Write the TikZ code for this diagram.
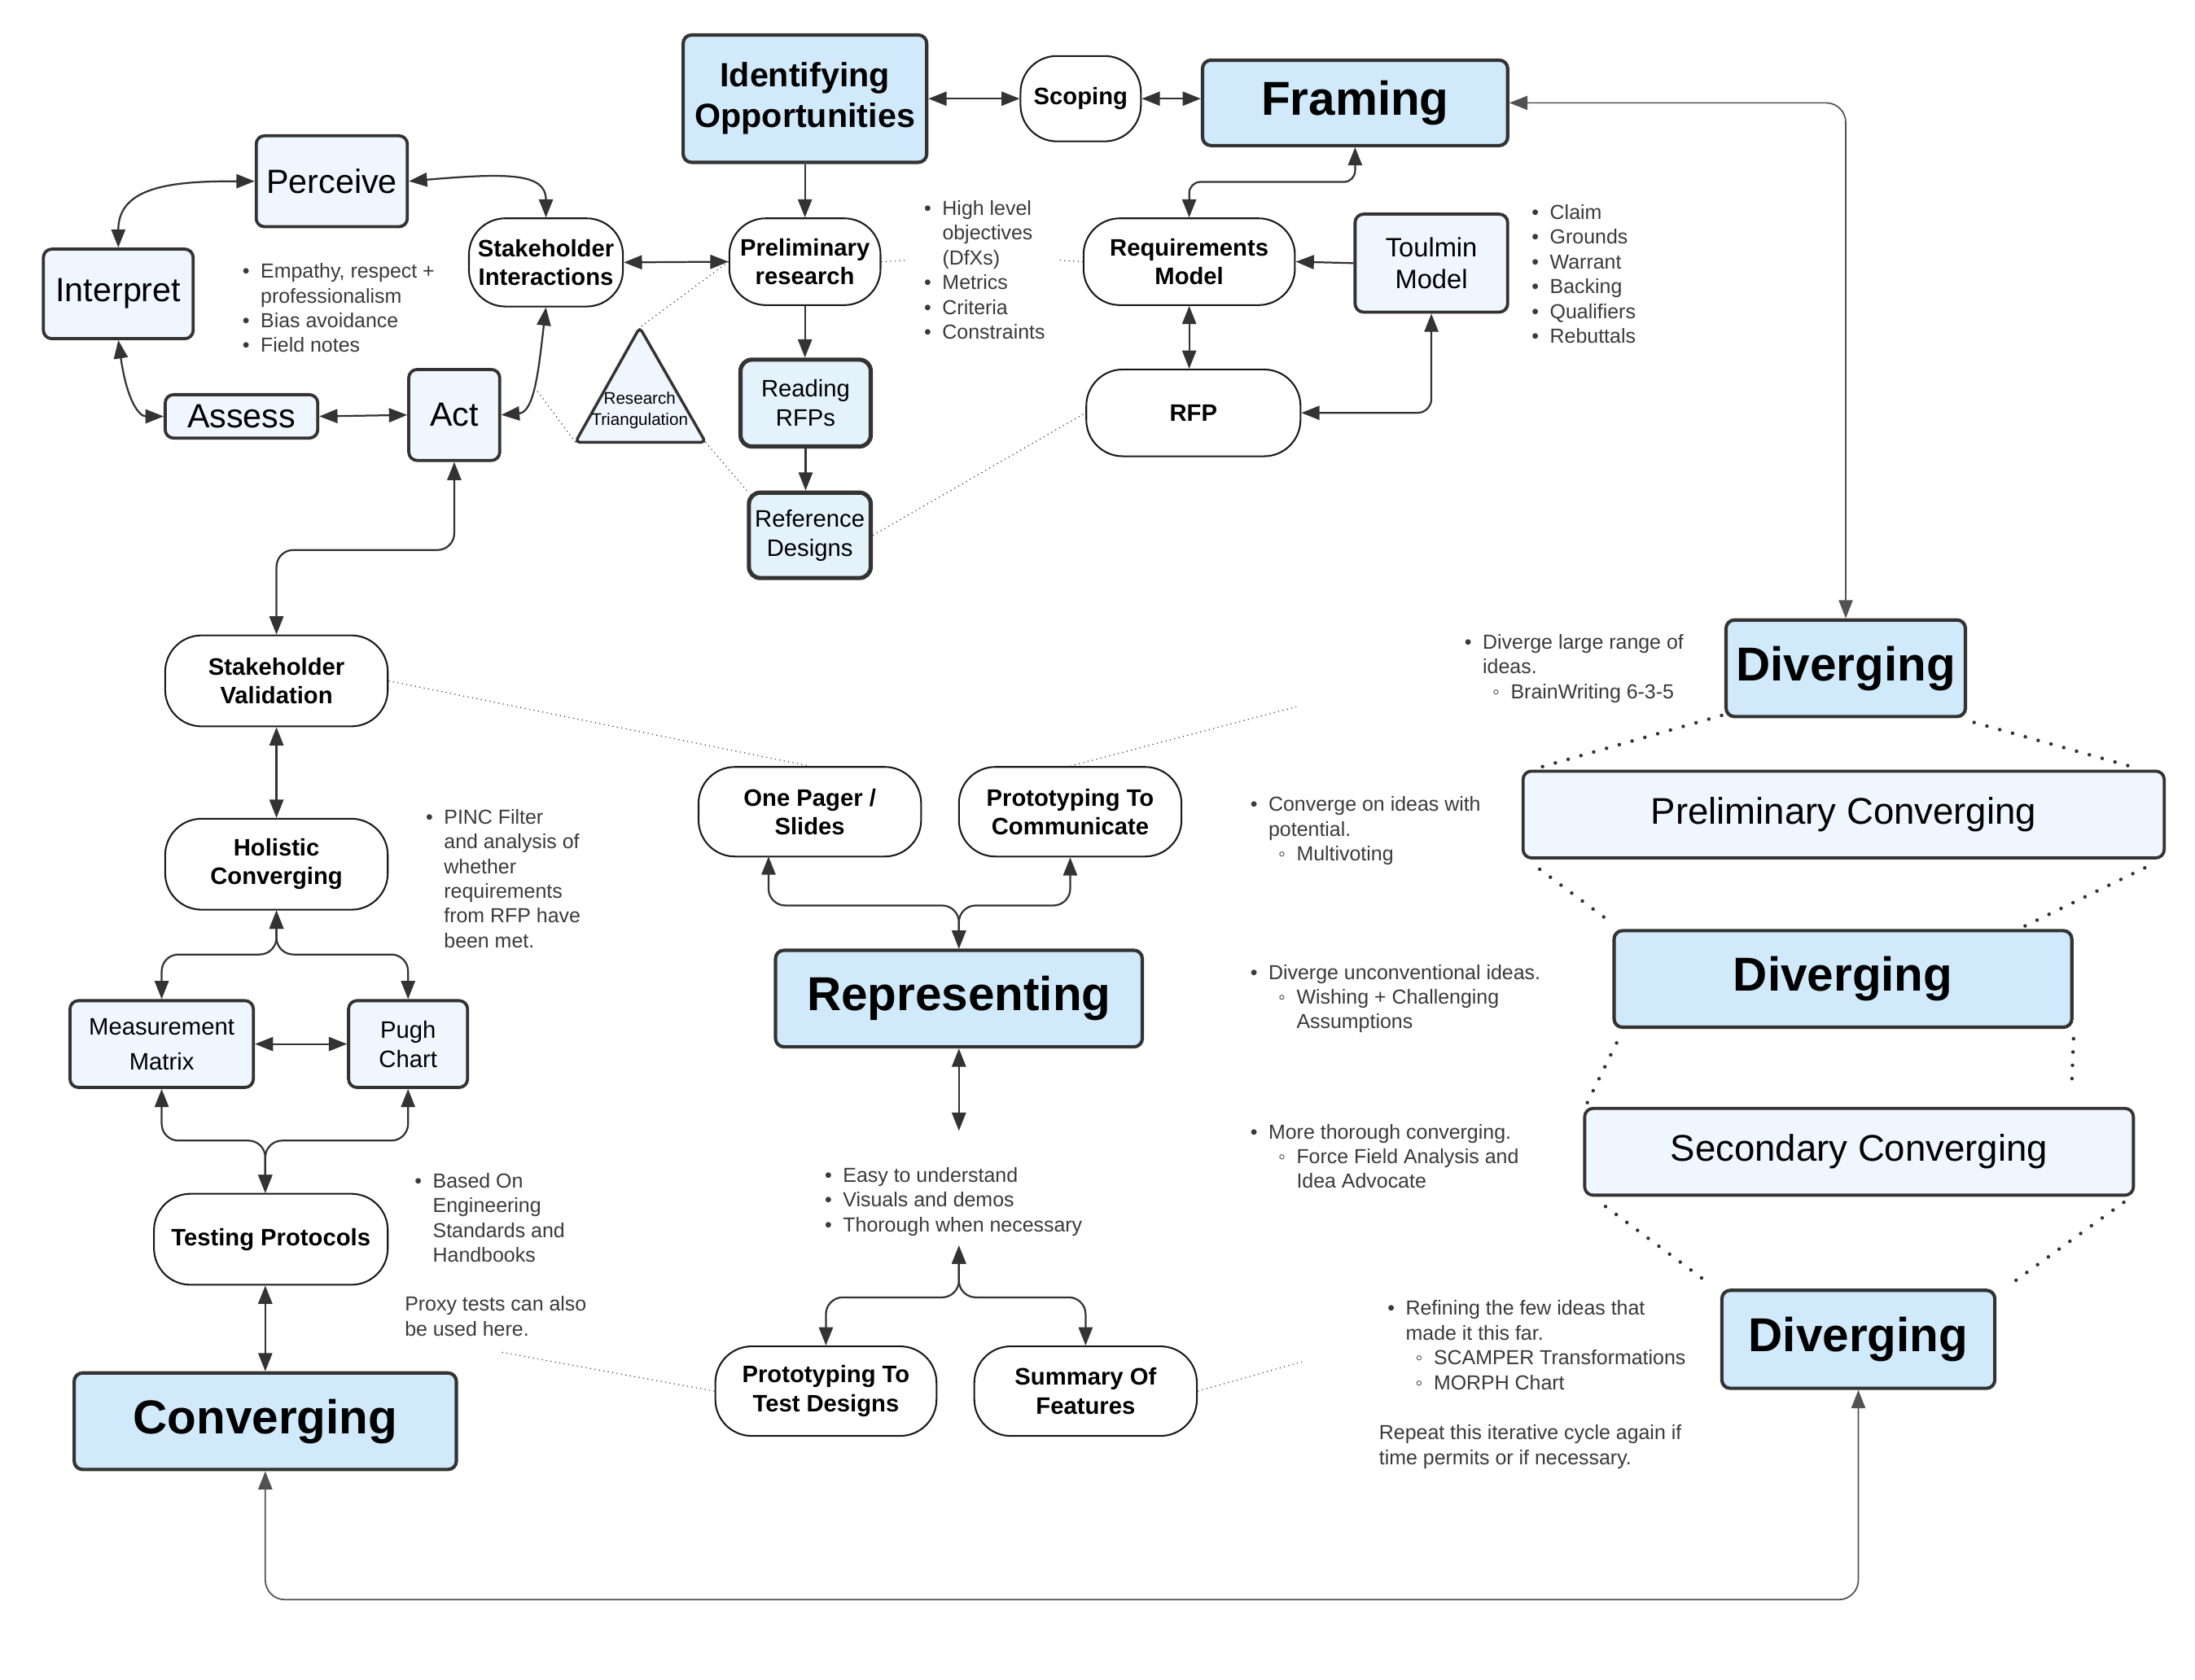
\documentclass[tikz,border=0pt]{standalone}
\usepackage{fontspec}
\setmainfont{Liberation Sans}
\usetikzlibrary{arrows.meta,calc}
\definecolor{blueF}{HTML}{D1EAFB}
\definecolor{lightF}{HTML}{EFF6FE}
\definecolor{midF}{HTML}{E4F2FC}
\definecolor{bd}{HTML}{333333}
\definecolor{ln}{HTML}{333333}
\definecolor{txt}{HTML}{3A3A3A}
\newcommand\fs[2]{\fontsize{#1}{#2}\selectfont}
\newcommand\bi{\makebox[13pt][l]{•}}
\newcommand\bn{\hspace*{13pt}}
\newcommand\si{\hspace*{20pt}\makebox[13pt][l]{◦}}
\newcommand\sn{\hspace*{33pt}}
\tikzset{
  bluebox/.style={draw=bd, line width=2.4pt, fill=blueF, rounded corners=6pt, align=center, inner sep=0pt, font=\bfseries\fs{34}{40}},
  lightbox/.style={draw=bd, line width=2.2pt, fill=lightF, rounded corners=6pt, align=center, inner sep=0pt, font=\fs{24}{29}},
  midbox/.style={draw=bd, line width=3pt, fill=midF, rounded corners=8pt, align=center, inner sep=0pt, font=\fs{17}{21}},
  pill/.style={draw=black!90, line width=1.2pt, fill=white, rounded corners=26pt, align=center, inner sep=0pt, font=\bfseries\fs{17}{20.5}},
  note/.style={anchor=north west, inner sep=0pt, align=left, text=txt, font=\fs{14.5}{17.7}},
  conn/.style={draw=ln, line width=1.3pt},
  thinconn/.style={draw=ln!85, line width=1pt},
  dotfine/.style={draw=black!75, line width=0.7pt, dash pattern=on 0.7pt off 2.5pt},
  dotbig/.style={draw=bd, line width=2.6pt, line cap=round, dash pattern=on 0pt off 9.5pt},
}
\begin{document}
\begin{tikzpicture}[x=1pt,y=-1pt, >={Triangle[length=13pt,width=10pt]}]
\useasboundingbox (0,0) rectangle (1568,1200);
\fill[white] (0,0) rectangle (1568,1200);

% ---------- top row ----------
\node[bluebox, minimum width=174pt, minimum height=91pt, font=\bfseries\fs{24}{29}] (idop) at (575,70.5) {Identifying\\Opportunities};
\node[pill, minimum width=86pt, minimum height=61pt] (scope) at (772,70.5) {Scoping};
\node[bluebox, minimum width=218pt, minimum height=61pt] (fram) at (968,73.5) {Framing};

% ---------- top-left cycle ----------
\node[lightbox, minimum width=108pt, minimum height=65pt] (perc) at (237,129.5) {Perceive};
\node[lightbox, minimum width=107pt, minimum height=64pt] (interp) at (84.5,210) {Interpret};
\node[lightbox, minimum width=109pt, minimum height=31pt] (assess) at (172.5,297.5) {Assess};
\node[lightbox, minimum width=65pt, minimum height=65pt] (act) at (324.5,296.5) {Act};
\node[pill, minimum width=110pt, minimum height=63pt] (shint) at (390,187.5) {Stakeholder\\Interactions};
\node[pill, minimum width=108pt, minimum height=62pt] (prel) at (575,187) {Preliminary\\research};
\node[midbox, minimum width=93pt, minimum height=62pt] (read) at (575.5,288) {Reading\\RFPs};
\node[midbox, minimum width=87pt, minimum height=61pt] (refd) at (578.5,382.5) {Reference\\Designs};

% triangle
\coordinate (tA) at (457,234);
\coordinate (tL) at (411,316);
\coordinate (tR) at (504,316);
\draw[draw=bd, line width=2pt, fill=lightF, rounded corners=3pt] (tA) -- (tR) -- (tL) -- cycle;
\node[inner sep=0pt, align=center, font=\fs{12}{15}] (tri) at (457,293) {Research\\Triangulation};

\node[note] (emp) at (173,188) {\bi Empathy, respect +\\\bn professionalism\\\bi Bias avoidance\\\bi Field notes};

% ---------- framing cluster ----------
\node[pill, minimum width=151pt, minimum height=62pt] (req) at (849.5,187) {Requirements\\Model};
\node[lightbox, minimum width=109pt, minimum height=70pt, font=\fs{19}{23}] (toul) at (1022.5,188) {Toulmin\\Model};
\node[pill, minimum width=153pt, minimum height=62pt] (rfp) at (852.5,295) {RFP};
\node[note] (hlo) at (660,143) {\bi High level\\\bn objectives\\\bn (DfXs)\\\bi Metrics\\\bi Criteria\\\bi Constraints};
\node[note] (claim) at (1094,146) {\bi Claim\\\bi Grounds\\\bi Warrant\\\bi Backing\\\bi Qualifiers\\\bi Rebuttals};

% ---------- right column ----------
\node[bluebox, minimum width=171pt, minimum height=69pt] (div1) at (1318.5,477.5) {Diverging};
\node[lightbox, minimum width=458pt, minimum height=62pt, font=\fs{26.5}{32}] (pconv) at (1317,582) {Preliminary Converging};
\node[bluebox, minimum width=327pt, minimum height=69pt] (div2) at (1316.5,699.5) {Diverging};
\node[lightbox, minimum width=392pt, minimum height=62pt, font=\fs{26.5}{32}] (sconv) at (1328,823) {Secondary Converging};
\node[bluebox, minimum width=195pt, minimum height=70pt] (div3) at (1327.5,957) {Diverging};

\node[note] (dlr) at (1046,453) {\bi Diverge large range of\\\bn ideas.\\\si BrainWriting 6-3-5};
\node[note] (cpot) at (893,569) {\bi Converge on ideas with\\\bn potential.\\\si Multivoting};
\node[note] (dun) at (893,689) {\bi Diverge unconventional ideas.\\\si Wishing + Challenging\\\sn Assumptions};
\node[note] (mtc) at (893,803) {\bi More thorough converging.\\\si Force Field Analysis and\\\sn Idea Advocate};
\node[note] (refn) at (991,929) {\bi Refining the few ideas that\\\bn made it this far.\\\si SCAMPER Transformations\\\si MORPH Chart};
\node[note] (rept) at (985,1018) {Repeat this iterative cycle again if\\time permits or if necessary.};

% ---------- middle ----------
\node[bluebox, minimum width=262pt, minimum height=69pt] (rep) at (685,713.5) {Representing};
\node[pill, minimum width=159pt, minimum height=64pt] (onep) at (578.5,580) {One Pager /\\Slides};
\node[pill, minimum width=159pt, minimum height=64pt] (pcom) at (764.5,580) {Prototyping To\\Communicate};
\node[pill, minimum width=158pt, minimum height=64pt] (ptest) at (590,994) {Prototyping To\\Test Designs};
\node[pill, minimum width=159pt, minimum height=64pt] (summ) at (775.5,994) {Summary Of\\Features};
\node[note] (easy) at (589,834) {\bi Easy to understand\\\bi Visuals and demos\\\bi Thorough when necessary};

% ---------- left column ----------
\node[pill, minimum width=159pt, minimum height=65pt] (sval) at (197.5,486.5) {Stakeholder\\Validation};
\node[pill, minimum width=159pt, minimum height=65pt] (hol) at (197.5,617.5) {Holistic\\Converging};
\node[lightbox, minimum width=131pt, minimum height=62pt, font=\fs{17}{25}] (meas) at (115.5,746) {Measurement\\Matrix};
\node[lightbox, minimum width=85pt, minimum height=62pt, font=\fs{17}{21}] (pugh) at (291.5,746) {Pugh\\Chart};
\node[pill, minimum width=167pt, minimum height=65pt] (test) at (193.5,885.5) {Testing Protocols};
\node[bluebox, minimum width=273pt, minimum height=69pt] (conv) at (189.5,1015.5) {Converging};
\node[note] (pinc) at (304,578) {\bi PINC Filter\\\bn and analysis of\\\bn whether\\\bn requirements\\\bn from RFP have\\\bn been met.};
\node[note] (based) at (296,838) {\bi Based On\\\bn Engineering\\\bn Standards and\\\bn Handbooks};
\node[note] (proxy) at (289,926) {Proxy tests can also\\be used here.};

% ---------- helper coordinates ----------
\coordinate (yA) at (0,393);
\coordinate (yB) at (0,682);
\coordinate (yC) at (0,815);
\coordinate (yD) at (0,647);
\coordinate (yE) at (0,927);
\coordinate (yF) at (0,130);
\coordinate (yG) at (0,1143);
\coordinate (onepA) at (549,612);
\coordinate (easyT) at (685,808);
\coordinate (easyB) at (685,890);
\coordinate (h1) at (648,186);
\coordinate (h2) at (757,186);
\coordinate (pcF) at (926,505);
\coordinate (prF) at (357,966);
\coordinate (smF) at (930,973);
\coordinate (actD) at (382,277);
\coordinate (d2v) at (1480,773);

% ---------- solid connectors ----------
\draw[conn,<->] (interp.north) .. controls ($(interp.north)+(0,-45)$) and ($(perc.west)+(-55,0)$) .. (perc.west);
\draw[conn,<->] (perc.east) .. controls ($(perc.east)+(70,-6)$) and ($(shint.north)+(0,-32)$) .. (shint.north);
\draw[conn,<->] (interp.south) .. controls ($(interp.south)+(6,42)$) and ($(assess.west)+(-18,0)$) .. (assess.west);
\draw[conn,<->] (act.east) .. controls ($(act.east)+(24,-2)$) and ($(shint.south)+(-5,42)$) .. (shint.south);
\draw[conn,<->] (assess.east) -- (act.west);
\draw[conn,<->] (shint.east) -- (prel.west);
\draw[conn,->] (idop.south) -- (prel.north);
\draw[conn,->] (prel.south) -- (prel.south |- read.north);
\draw[conn,->] (read.south) -- (read.south |- refd.north);
\draw[conn,<->] (idop.east |- scope.west) -- (scope.west);
\draw[conn,<->] (scope.east) -- (scope.east -| fram.west);
\draw[conn,<->, rounded corners=8pt] (fram.south) -- (fram.south |- yF) -- (req.north |- yF) -- (req.north);
\draw[conn,->] (toul.west) -- (req.east);
\draw[conn,<->] (req.south) -- (req.south |- rfp.north);
\draw[conn,<->, rounded corners=10pt] (toul.south) -- (toul.south |- rfp.east) -- (rfp.east);
\draw[thinconn,<->, rounded corners=14pt] (fram.east) -- (fram.east -| div1.north) -- (div1.north);

\draw[conn,<->, rounded corners=12pt] (act.south) -- (act.south |- yA) -- (sval.north |- yA) -- (sval.north);
\draw[conn,<->] (sval.south) -- (hol.north);
\draw[conn,<->, rounded corners=12pt] (hol.south) -- (hol.south |- yB) -- (meas.north |- yB) -- (meas.north);
\draw[conn,<->, rounded corners=12pt] (hol.south) -- (hol.south |- yB) -- (pugh.north |- yB) -- (pugh.north);
\draw[conn,<->] (meas.east) -- (pugh.west);
\draw[conn,<->, rounded corners=12pt] (meas.south) -- (meas.south |- yC) -- (conv.north |- yC) -- (conv.north |- test.north);
\draw[conn,<->, rounded corners=12pt] (pugh.south) -- (pugh.south |- yC) -- (conv.north |- yC) -- (conv.north |- test.north);
\draw[conn,<->] (conv.north |- test.south) -- (conv.north);
\draw[thinconn,<->, rounded corners=14pt] (conv.south) -- (conv.south |- yG) -- (div3.south |- yG) -- (div3.south);

\draw[conn,<->, rounded corners=12pt] (rep.north) -- (rep.north |- yD) -- (onepA |- yD) -- (onepA);
\draw[conn,<->, rounded corners=12pt] (rep.north) -- (rep.north |- yD) -- (pcom.south |- yD) -- (pcom.south);
\draw[conn,<->] (rep.south) -- (easyT);
\draw[conn,<->, rounded corners=12pt] (easyB) -- (easyB |- yE) -- (ptest.north |- yE) -- (ptest.north);
\draw[conn,<->, rounded corners=12pt] (easyB) -- (easyB |- yE) -- (summ.north |- yE) -- (summ.north);

% ---------- fine dotted connectors ----------
\draw[dotfine] (prel.west) -- (tA);
\draw[dotfine] (actD) -- (tL);
\draw[dotfine] (tR) -- (refd.north west);
\draw[dotfine] (refd.east) -- (rfp.west);
\draw[dotfine] (prel.east) -- (h1);
\draw[dotfine] (h2) -- (req.west);
\draw[dotfine] (sval.east) -- (onep.north);
\draw[dotfine] (pcom.north) -- (pcF);
\draw[dotfine] (ptest.west) -- (prF);
\draw[dotfine] (summ.east) -- (smF);

% ---------- big dotted connectors ----------
\draw[dotbig] ($(div1.south west)+(-2,-2)$) -- ($(pconv.north west)+(11,-1)$);
\draw[dotbig] ($(div1.south east)+(5,3)$) -- ($(pconv.north east)+(-24,-2)$);
\draw[dotbig] ($(pconv.south west)+(13,7)$) -- ($(div2.north west)+(0,-4)$);
\draw[dotbig] ($(pconv.south east)+(-15,6)$) -- ($(div2.north east)+(-35,-2)$);
\draw[dotbig] ($(div2.south west)+(3,10)$) -- ($(sconv.north west)+(2,-1)$);
\draw[dotbig] ($(div2.south east)+(0,7)$) -- (d2v);
\draw[dotbig] ($(sconv.south west)+(16,7)$) -- ($(div3.north west)+(-7,-3)$);
\draw[dotbig] ($(sconv.south east)+(-8,4)$) -- ($(div3.north east)+(7,-1)$);
\end{tikzpicture}
\end{document}
